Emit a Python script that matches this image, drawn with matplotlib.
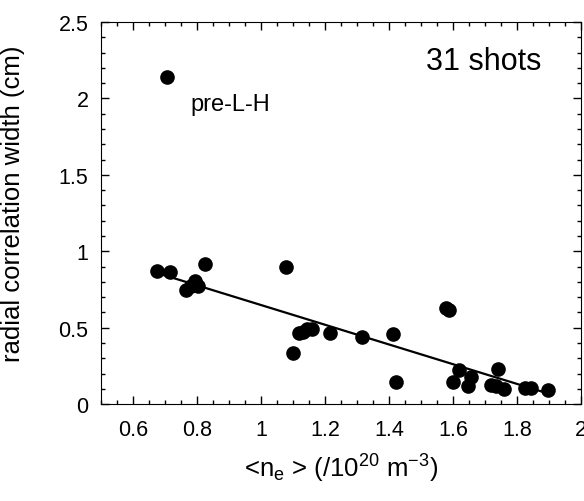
import numpy as np
import matplotlib.pyplot as plt

plt.rcParams['font.family'] = 'Liberation Sans'
plt.rcParams['mathtext.fontset'] = 'custom'
plt.rcParams['mathtext.rm'] = 'Liberation Sans'
plt.rcParams['mathtext.it'] = 'Liberation Sans'

# line-averaged density (1e20 m^-3) and radial correlation width (cm)
ne = [0.706, 0.675, 0.717, 0.826, 0.767, 0.782, 0.795, 0.802,
      1.078, 1.101, 1.120, 1.132, 1.143, 1.160, 1.217, 1.314,
      1.412, 1.421, 1.579, 1.587, 1.601, 1.620, 1.657, 1.646,
      1.740, 1.719, 1.735, 1.760, 1.826, 1.844, 1.898]
width = [2.14, 0.874, 0.863, 0.918, 0.749, 0.775, 0.808, 0.771,
         0.90, 0.332, 0.468, 0.470, 0.49, 0.49, 0.464, 0.442,
         0.462, 0.146, 0.626, 0.618, 0.143, 0.222, 0.179, 0.117,
         0.231, 0.122, 0.118, 0.102, 0.106, 0.106, 0.095]

# linear fit excluding the pre-L-H point
x_fit = np.array(ne[1:])
y_fit = np.array(width[1:])
slope, icept = np.polyfit(x_fit, y_fit, 1)
xl = np.array([x_fit.min(), x_fit.max()])

fig = plt.figure(figsize=(5.84, 5.02), dpi=100)
ax = fig.add_axes([0.173, 0.193, 0.822, 0.761])

ax.plot(ne, width, 'o', color='black', markersize=9.5)
ax.plot(xl, slope * xl + icept, color='black', linewidth=1.6)

ax.set_xlim(0.5, 2.0)
ax.set_ylim(0, 2.5)
ax.set_xticks([0.6, 0.8, 1.0, 1.2, 1.4, 1.6, 1.8, 2.0])
ax.set_xticklabels(['0.6', '0.8', '1', '1.2', '1.4', '1.6', '1.8', '2'])
ax.set_xticks(np.arange(0.5, 2.0001, 0.05), minor=True)
ax.set_yticks([0, 0.5, 1.0, 1.5, 2.0, 2.5])
ax.set_yticklabels(['0', '0.5', '1', '1.5', '2', '2.5'])
ax.set_yticks(np.arange(0, 2.5001, 0.1), minor=True)

ax.tick_params(which='both', direction='in', top=True, right=True, labelsize=15.5)
ax.tick_params(which='major', length=6, width=1)
ax.tick_params(which='minor', length=3, width=1)
ax.tick_params(axis='x', pad=11)
ax.tick_params(axis='y', pad=9)

ax.set_xlabel(r'<n$_{e}$ > (/10$^{20}$ m$^{-3}$)', fontsize=18.5, labelpad=8)
ax.set_ylabel('radial correlation width (cm)', fontsize=18.5)
ax.yaxis.set_label_coords(-0.158, 0.526)

ax.text(0.779, 1.924, 'pre-L-H', fontsize=17)
ax.text(1.516, 2.194, '31 shots', fontsize=22)

fig.savefig('out.png', dpi=100)
